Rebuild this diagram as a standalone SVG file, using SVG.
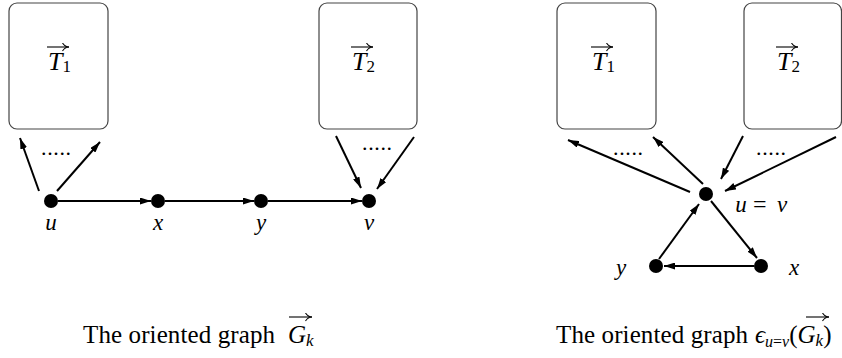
<svg xmlns="http://www.w3.org/2000/svg" width="842" height="358" viewBox="0 0 842 358">
<defs>
<marker id="ah" markerWidth="11" markerHeight="7" refX="11" refY="3.5" orient="auto" markerUnits="userSpaceOnUse">
<path d="M0,0 L11,3.5 L0,7 Z" fill="#000"/>
</marker>
<marker id="vh" markerWidth="8" markerHeight="9" refX="7" refY="4.5" orient="auto" markerUnits="userSpaceOnUse">
<path d="M0.5,0.5 Q3,4.5 7,4.5 Q3,4.5 0.5,8.5" fill="none" stroke="#000" stroke-width="1.1"/>
</marker>
<style>
text{font-family:"Liberation Serif","Times New Roman","DejaVu Serif",serif;fill:#000}
.box{fill:#fff;stroke:#444;stroke-width:1.2}
.dot{fill:#000}
.e{stroke:#000;stroke-width:2;fill:none;marker-end:url(#ah)}
.vec{stroke:#000;stroke-width:1.1;fill:none;marker-end:url(#vh)}
.m{font-style:italic;font-size:26px}
.lab{font-style:italic;font-size:23px;text-anchor:middle}
.sub{font-style:normal;font-size:17px}
.dots{font-size:22px}
.cap{font-size:25px}
</style>
</defs>

<!-- Left panel -->
<g id="L_T1">
<rect class="box" x="9" y="3" width="99" height="126" rx="8"/>
<text class="m" x="48" y="70">T<tspan class="sub" dy="2">1</tspan></text>
<path class="vec" d="M47,47 H69"/>
</g>
<g id="L_T2">
<rect class="box" x="319" y="3" width="98" height="126" rx="8"/>
<text class="m" x="352" y="70">T<tspan class="sub" dy="2">2</tspan></text>
<path class="vec" d="M351,47 H373"/>
</g>
<g id="L_u"><circle class="dot" cx="51" cy="201" r="7"/><text class="lab" x="51" y="230">u</text></g>
<g id="L_x"><circle class="dot" cx="158" cy="201" r="7"/><text class="lab" x="158" y="230">x</text></g>
<g id="L_y"><circle class="dot" cx="261" cy="201" r="7"/><text class="lab" x="261" y="230">y</text></g>
<g id="L_v"><circle class="dot" cx="369" cy="201" r="7"/><text class="lab" x="369" y="230">v</text></g>
<text class="dots" x="41" y="155" textLength="30">.....</text>
<text class="dots" x="362" y="150" textLength="30">.....</text>

<!-- Right panel -->
<g id="R_T1">
<rect class="box" x="557" y="3" width="99" height="126" rx="8"/>
<text class="m" x="592" y="70">T<tspan class="sub" dy="2">1</tspan></text>
<path class="vec" d="M591,47 H613"/>
</g>
<g id="R_T2">
<rect class="box" x="744" y="3" width="97.5" height="126" rx="8"/>
<text class="m" x="777" y="70">T<tspan class="sub" dy="2">2</tspan></text>
<path class="vec" d="M776,47 H798"/>
</g>
<g id="R_uv"><circle class="dot" cx="706" cy="194" r="7"/>
<text class="lab" x="741" y="212">u</text>
<text x="753" y="212" textLength="19" style="font-size:24px">=</text>
<text class="lab" x="782" y="212">v</text>
</g>
<g id="R_y"><circle class="dot" cx="656" cy="266" r="7"/><text class="lab" x="621" y="275">y</text></g>
<g id="R_x"><circle class="dot" cx="761" cy="266" r="7"/><text class="lab" x="794" y="275">x</text></g>
<text class="dots" x="613" y="155" textLength="30">.....</text>
<text class="dots" x="756" y="155" textLength="30">.....</text>

<g id="connectors">
<line class="e" x1="39" y1="191" x2="20" y2="138"/>
<line class="e" x1="57" y1="191" x2="100" y2="142"/>
<line class="e" x1="58" y1="201" x2="151" y2="201"/>
<line class="e" x1="165" y1="201" x2="254" y2="201"/>
<line class="e" x1="268" y1="201" x2="362" y2="201"/>
<line class="e" x1="336" y1="136" x2="361" y2="188"/>
<line class="e" x1="414" y1="137" x2="377" y2="189"/>

<line class="e" x1="690" y1="192" x2="568" y2="140"/>
<line class="e" x1="703" y1="184" x2="653" y2="137"/>
<line class="e" x1="743" y1="136" x2="721" y2="179"/>
<line class="e" x1="836" y1="137" x2="725" y2="191"/>
<line class="e" x1="659" y1="259" x2="699" y2="204"/>
<line class="e" x1="711" y1="201" x2="757" y2="258"/>
<line class="e" x1="754" y1="266" x2="664" y2="266"/>
</g>

<!-- Captions -->
<g id="cap_left">
<text class="cap" x="83" y="343" textLength="192">The oriented graph</text>
<text class="cap" x="288" y="343" font-style="italic">G<tspan font-size="17" dy="3">k</tspan></text>
<path class="vec" d="M289,317 H312"/>
</g>
<g id="cap_right">
<text class="cap" x="556" y="343" textLength="192">The oriented graph</text>
<text class="cap" x="755" y="343" font-style="italic">ϵ<tspan font-size="16" dy="4">u</tspan><tspan font-size="16" font-style="normal">=</tspan><tspan font-size="16">v</tspan><tspan dy="-4" font-style="normal">(</tspan>G<tspan font-size="17" dy="3">k</tspan><tspan dy="-3" font-style="normal">)</tspan></text>
<path class="vec" d="M806,317 H829"/>
</g>
</svg>
